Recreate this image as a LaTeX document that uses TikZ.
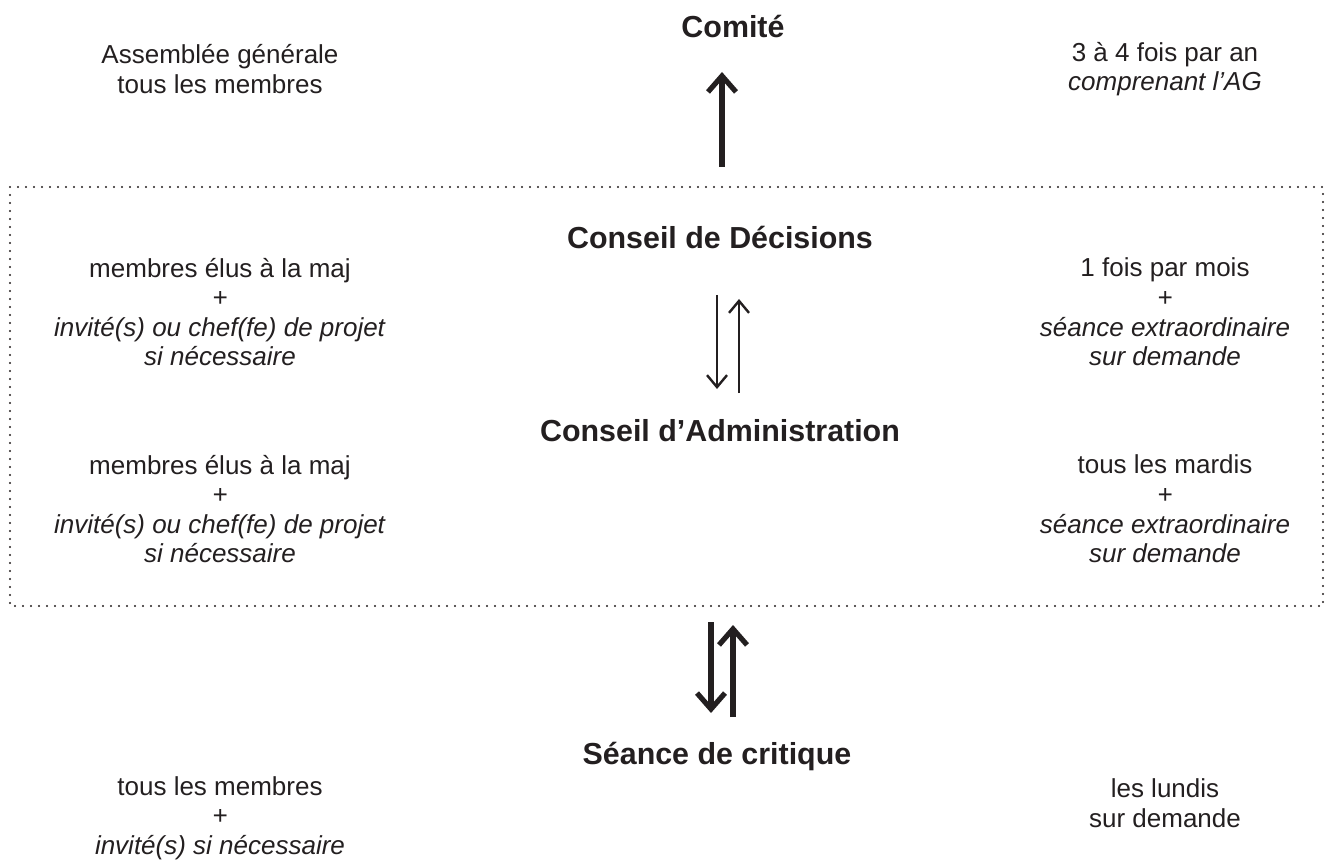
\documentclass[tikz,border=0pt]{standalone}
\usepackage{fontspec}
\setmainfont{Liberation Sans}
\usetikzlibrary{arrows.meta}
\definecolor{encre}{HTML}{231F20}
\begin{document}
\begin{tikzpicture}[x=0.5pt, y=-0.5pt, encre,
		titre/.style={font=\bfseries\fontsize{15.2}{17}\selectfont, inner sep=0},
		info/.style={align=center, font=\fontsize{13}{14.8}\selectfont, inner sep=0},
		grosse/.style={line width=2.6pt, -{Straight Barb[length=8pt, width=14pt]}},
		fine/.style={line width=1.2pt, -{Straight Barb[length=6pt, width=10pt]}}]
	\useasboundingbox (0,0) rectangle (1328,861);
	% cadre pointille
	\draw [line width=1.2pt, line cap=round, dash pattern=on 0pt off 4pt] (10,187) rectangle (1323,606);
	% titres
	\node [titre] (comite) at (733,27) {Comité};
	\node [titre] (decisions) at (720,238) {Conseil de Décisions};
	\node [titre] (admin) at (720,431) {Conseil d’Administration};
	\node [titre] (critique) at (717,757) {Séance de critique};
	% textes a gauche et a droite
	\node [info] (agL) at (220,69) {Assemblée générale\\tous les membres};
	\node [info] (agR) at (1165,69) {3 à 4 fois par an\\\textit{comprenant l’AG}};
	\node [info] (decL) at (220,312) {membres élus à la maj\\\textit{+}\\\textit{invité(s) ou chef(fe) de projet}\\\textit{si nécessaire}};
	\node [info] (decR) at (1165,312) {1 fois par mois\\\textit{+}\\\textit{séance extraordinaire}\\\textit{sur demande}};
	\node [info] (admL) at (220,509) {membres élus à la maj\\\textit{+}\\\textit{invité(s) ou chef(fe) de projet}\\\textit{si nécessaire}};
	\node [info] (admR) at (1165,509) {tous les mardis\\\textit{+}\\\textit{séance extraordinaire}\\\textit{sur demande}};
	\node [info] (critL) at (220,818) {tous les membres\\\textit{+}\\\textit{invité(s) si nécessaire}};
	\node [info] (critR) at (1165,803) {les lundis\\sur demande};
	% fleches
	\coordinate (c1) at (722,167);
	\coordinate (c2) at (722,72);
	\draw [grosse] (c1) -- (c2);
	\coordinate (m1) at (717,295);
	\coordinate (m2) at (717,389);
	\coordinate (m3) at (739,393);
	\coordinate (m4) at (739,299);
	\draw [fine] (m1) -- (m2);
	\draw [fine] (m3) -- (m4);
	\coordinate (b1) at (711,622);
	\coordinate (b2) at (711,713);
	\coordinate (b3) at (733,717);
	\coordinate (b4) at (733,625);
	\draw [grosse] (b1) -- (b2);
	\draw [grosse] (b3) -- (b4);
\end{tikzpicture}
\end{document}
